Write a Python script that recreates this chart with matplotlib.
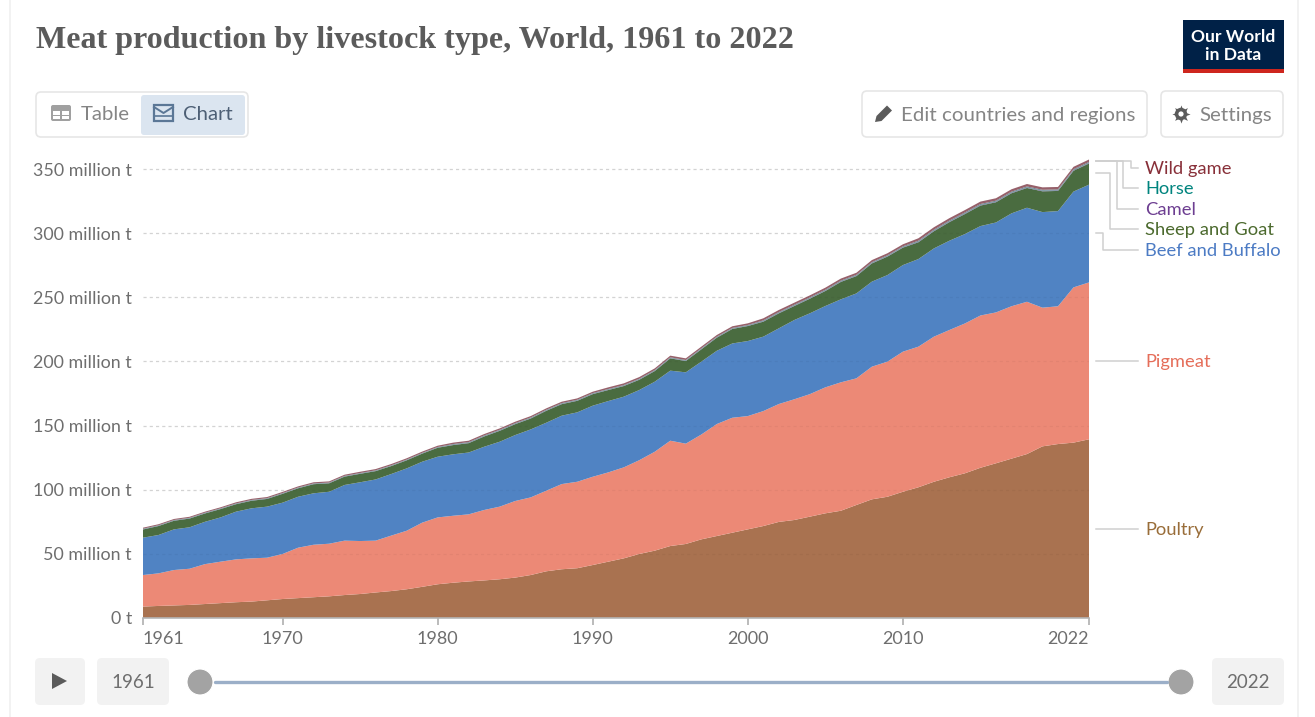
import matplotlib
matplotlib.use("Agg")
import matplotlib.pyplot as plt
from matplotlib.patches import FancyBboxPatch, Rectangle, Circle, Polygon

W, H = 1315, 717
plt.rcParams['font.family'] = ['Lato', 'DejaVu Sans']

years = list(range(1961, 2023))
poultry = [8.9, 9.4, 9.8, 10.2, 10.9, 11.6, 12.3, 12.8, 13.8, 14.8,
           15.5, 16.2, 16.9, 17.9, 18.7, 19.9, 21.0, 22.4, 24.3, 26.3,
           27.5, 28.5, 29.3, 30.2, 31.5, 33.5, 36.4, 38.0, 38.8, 41.3,
           43.9, 46.5, 49.9, 52.5, 56.1, 57.7, 61.3, 63.9, 66.5, 69.1,
           71.7, 74.9, 76.4, 79.0, 81.6, 83.6, 88.1, 92.5, 94.5, 98.4,
           101.9, 106.2, 109.7, 112.8, 117.1, 120.6, 124.2, 127.8, 133.8, 135.6, 136.7, 139.3]
pigmeat = [24.6, 25.4, 27.6, 28.2, 31.1, 32.3, 33.4, 33.7, 33.2, 35.1,
           39.3, 40.9, 41.0, 42.4, 41.3, 40.4, 43.2, 45.6, 50.0, 52.1,
           52.2, 52.3, 54.9, 56.6, 59.7, 60.5, 62.8, 66.4, 67.4, 68.8,
           69.6, 70.9, 73.1, 77.1, 82.1, 78.2, 81.7, 87.3, 89.6, 88.3,
           89.6, 91.9, 94.1, 95.5, 98.2, 100.1, 98.7, 103.4, 105.3, 109.2,
           109.6, 113.1, 114.8, 116.8, 118.7, 117.6, 118.8, 118.7, 108.1, 107.4, 121.0, 122.3]
beef = [29.1, 29.9, 31.7, 32.3, 33.0, 34.5, 37.2, 39.0, 39.8, 40.0,
        39.7, 40.1, 40.5, 43.4, 45.8, 47.7, 48.0, 48.6, 47.5, 47.3,
        47.9, 48.2, 49.3, 50.6, 51.4, 53.0, 53.0, 53.3, 54.1, 55.4,
        55.6, 55.1, 54.7, 54.6, 54.6, 55.6, 56.8, 57.1, 57.9, 58.5,
        58.0, 59.0, 61.8, 63.0, 63.4, 64.7, 66.2, 66.3, 67.5, 67.5,
        68.3, 68.8, 69.6, 69.7, 69.7, 70.1, 72.4, 73.3, 74.5, 74.2, 74.7, 76.2]
sheep_goat = [6.4, 7.0, 6.7, 6.8, 6.5, 6.5, 5.8, 5.9, 6.0, 6.9,
              6.6, 7.1, 6.6, 6.5, 6.6, 6.5, 6.2, 6.3, 6.3, 7.0,
              7.2, 7.3, 8.0, 8.5, 8.5, 8.5, 9.3, 9.0, 9.0, 9.0,
              8.6, 8.3, 8.0, 8.3, 9.6, 8.8, 9.6, 10.2, 11.3, 11.7,
              11.7, 11.7, 10.9, 11.4, 11.7, 13.6, 13.5, 14.2, 14.4, 13.6,
              13.1, 13.4, 14.5, 15.6, 16.0, 15.8, 15.7, 15.4, 16.2, 15.7, 16.2, 16.5]
camel = [0.2, 0.2, 0.2, 0.2, 0.2, 0.2, 0.2, 0.2, 0.2, 0.2,
         0.2, 0.2, 0.2, 0.2, 0.2, 0.2, 0.2, 0.2, 0.2, 0.2,
         0.3, 0.3, 0.3, 0.3, 0.3, 0.3, 0.3, 0.3, 0.3, 0.3,
         0.3, 0.3, 0.3, 0.3, 0.3, 0.3, 0.3, 0.3, 0.3, 0.3,
         0.4, 0.4, 0.4, 0.4, 0.4, 0.4, 0.4, 0.4, 0.4, 0.4,
         0.5, 0.5, 0.5, 0.5, 0.5, 0.5, 0.5, 0.5, 0.5, 0.5, 0.5, 0.5]
horse = [0.4, 0.4, 0.4, 0.4, 0.4, 0.4, 0.4, 0.4, 0.4, 0.4,
         0.4, 0.4, 0.4, 0.4, 0.4, 0.4, 0.4, 0.4, 0.4, 0.4,
         0.5, 0.5, 0.5, 0.5, 0.5, 0.5, 0.5, 0.5, 0.5, 0.5,
         0.5, 0.5, 0.5, 0.5, 0.5, 0.5, 0.5, 0.5, 0.5, 0.5,
         0.6, 0.6, 0.6, 0.6, 0.6, 0.6, 0.6, 0.6, 0.6, 0.6,
         0.7, 0.7, 0.7, 0.7, 0.7, 0.7, 0.7, 0.7, 0.7, 0.7, 0.7, 0.7]
wild_game = [0.8, 0.8, 0.8, 0.8, 0.8, 0.8, 0.9, 0.9, 0.9, 0.9,
             0.9, 0.9, 0.9, 0.9, 1.0, 1.0, 1.0, 1.0, 1.0, 1.0,
             1.1, 1.1, 1.1, 1.1, 1.1, 1.1, 1.1, 1.1, 1.1, 1.1,
             1.3, 1.3, 1.3, 1.3, 1.3, 1.3, 1.3, 1.3, 1.3, 1.3,
             1.6, 1.6, 1.6, 1.6, 1.6, 1.6, 1.6, 1.6, 1.6, 1.6,
             1.9, 1.9, 1.9, 1.9, 1.9, 1.9, 1.9, 1.9, 1.9, 1.9, 1.9, 1.9]

y_ticks = [0, 50, 100, 150, 200, 250, 300, 350]
y_tick_labels = ['0 t', '50 million t', '100 million t', '150 million t', '200 million t',
                 '250 million t', '300 million t', '350 million t']
x_ticks = [1961, 1970, 1980, 1990, 2000, 2010, 2022]
title = 'Meat production by livestock type, World, 1961 to 2022'

series_colors = ['#A97250', '#EC8976', '#5083C3', '#4A6C40', '#6F6A9A', '#5B8A8C', '#96606A']

# ---------- main chart, placed in pixel terms ----------
px_per_unit = 449 / 350
left, right, bottom, top = 143, 1089, 618, 150
fig = plt.figure(figsize=(W / 100, H / 100), dpi=100, facecolor='white')
ax = fig.add_axes([left / W, 1 - bottom / H, (right - left) / W, (bottom - top) / H])
ax.set_xlim(1961, 2022)
ax.set_ylim(0, (bottom - top) / px_per_unit)
ax.set_facecolor('none')
for t in y_ticks[1:]:
    ax.axhline(t, color='#dcdcdc', lw=0.9, ls=(0, (2.5, 2.5)), zorder=1)
ax.stackplot(years, poultry, pigmeat, beef, sheep_goat, camel, horse, wild_game,
             colors=series_colors, lw=0, zorder=2)
for t in y_ticks[1:]:
    ax.axhline(t, color='#000000', alpha=0.04, lw=0.9, ls=(0, (2.5, 2.5)), zorder=3)
for s in ['top', 'right', 'left']:
    ax.spines[s].set_visible(False)
ax.spines['bottom'].set_color('#b5b5b5')
ax.spines['bottom'].set_linewidth(1.2)
ax.set_yticks(y_ticks, y_tick_labels)
ax.set_xticks(x_ticks, [str(x) for x in x_ticks])
ax.tick_params(axis='y', length=0, pad=8, labelsize=12.9, labelcolor='#6e6e6e')
ax.tick_params(axis='x', length=5, width=1.1, color='#a8a8a8', pad=4.5, labelsize=13, labelcolor='#6e6e6e')
labs = ax.get_xticklabels()
labs[0].set_ha('left')
labs[-1].set_ha('right')

# ---------- page furniture, in pixel coordinates ----------
ui = fig.add_axes([0, 0, 1, 1], zorder=5)
ui.set_xlim(0, W)
ui.set_ylim(H, 0)
ui.axis('off')
ui.patch.set_alpha(0)


def box(x0, y0, x1, y1, fc='white', ec='#e6e6e6', r=5, lw=1.2):
    ui.add_patch(FancyBboxPatch((x0 + r, y0 + r), x1 - x0 - 2 * r, y1 - y0 - 2 * r,
                                boxstyle=f'round,pad={r},rounding_size={r}', fc=fc, ec=ec, lw=lw))


ui.plot([10, 10], [0, H], color='#f0f0f0', lw=1.2)
ui.plot([1298, 1298], [0, H], color='#f0f0f0', lw=1.2)

ui.text(36, 40.5, title, family=['Liberation Serif'], weight='bold', fontsize=23.15, color='#5b5b5b',
        va='center', ha='left')

# logo
ui.add_patch(Rectangle((1183, 20), 101, 49, fc='#002147', ec='none'))
ui.add_patch(Rectangle((1183, 69), 101, 4, fc='#CE261E', ec='none'))
ui.text(1233.5, 36.5, 'Our World', color='white', weight='bold', fontsize=12.6, ha='center', va='center')
ui.text(1233.5, 54.5, 'in Data', color='white', weight='bold', fontsize=12.6, ha='center', va='center')

# table / chart toggle
box(36, 92, 248, 137)
box(141, 95, 245, 135, fc='#DBE5F0', ec='none', r=3)
box(51, 105, 71, 121, fc='#a0a0a0', ec='none', r=2)
ui.add_patch(Rectangle((53.5, 111), 7, 3.5, fc='white', ec='none'))
ui.add_patch(Rectangle((61.8, 111), 7, 3.5, fc='white', ec='none'))
ui.add_patch(Rectangle((53.5, 115.5), 7, 3.5, fc='white', ec='none'))
ui.add_patch(Rectangle((61.8, 115.5), 7, 3.5, fc='white', ec='none'))
ui.add_patch(Polygon([(154, 105), (173, 105), (173, 121), (154, 121)], closed=True, fc='none', ec='#5b7796', lw=1.6))
ui.plot([154, 163.5, 173], [107, 113, 107], color='#5b7796', lw=1.4)
ui.plot([154, 173], [116, 116], color='#5b7796', lw=1.2)
ui.text(81, 115, 'Table', color='#858585', fontsize=14.7, va='center', ha='left')
ui.text(183, 115, 'Chart', color='#4d5f75', fontsize=14.7, va='center', ha='left')

# edit / settings
box(862, 91, 1147, 137)
box(1161, 91, 1283, 137)
ui.add_patch(Polygon([(875, 122), (876.5, 116), (887, 105.5), (892, 110.5), (881.5, 121)],
                     closed=True, fc='#5b5b5b', ec='none'))
ui.scatter([1181], [114], marker=(8, 1, 0), s=170, c='#5b5b5b', linewidths=0, zorder=6)
ui.add_patch(Circle((1181, 114), 6.2, fc='#5b5b5b', ec='none', zorder=6))
ui.add_patch(Circle((1181, 114), 2.6, fc='white', ec='none', zorder=7))
ui.text(901, 115, 'Edit countries and regions', color='#858585', fontsize=14.75, va='center', ha='left')
ui.text(1199, 115, 'Settings', color='#858585', fontsize=14.75, va='center', ha='left')

# series labels and connectors
conn = '#d0d0d0'
labels = [
    ('Wild game', '#883039', 169, [(1096, 161), (1131, 161), (1131, 168), (1138, 168)]),
    ('Horse', '#00847E', 189, [(1096, 161), (1123, 161), (1123, 188), (1138, 188)]),
    ('Camel', '#6D3E91', 210, [(1096, 161), (1117, 161), (1117, 209), (1138, 209)]),
    ('Sheep and Goat', '#4C6A2E', 230, [(1096, 173), (1110, 173), (1110, 229), (1138, 229)]),
    ('Beef and Buffalo', '#4C7BC4', 251, [(1096, 233), (1103, 233), (1103, 250), (1138, 250)]),
    ('Pigmeat', '#E56E5A', 362, [(1096, 361), (1138, 361)]),
    ('Poultry', '#996D39', 530, [(1096, 529), (1138, 529)]),
]
for name, color, y, path in labels:
    ui.plot([p[0] for p in path], [p[1] for p in path], color=conn, lw=1.1)
    ui.text(1145, y, name, color=color, fontsize=13.25, va='center', ha='left')

# timeline
box(35, 658, 85, 705, fc='#f2f2f2', ec='none')
ui.add_patch(Polygon([(52, 673), (52, 689), (67, 681)], closed=True, fc='#5b5b5b', ec='none'))
box(97, 658, 169, 705, fc='#f2f2f2', ec='none')
ui.text(133, 682, '1961', color='#6e6e6e', fontsize=13.5, va='center', ha='center')
ui.plot([215, 1167], [682, 682], color='#9bafc8', lw=2.4, solid_capstyle='round')
ui.add_patch(Circle((200, 682), 13, fc='#a3a3a3', ec='white', lw=0.8))
ui.add_patch(Circle((1181, 682), 13, fc='#a3a3a3', ec='white', lw=0.8))
box(1212, 658, 1284, 705, fc='#f2f2f2', ec='none')
ui.text(1248, 682, '2022', color='#6e6e6e', fontsize=13.5, va='center', ha='center')

fig.savefig('out.png', dpi=100)
